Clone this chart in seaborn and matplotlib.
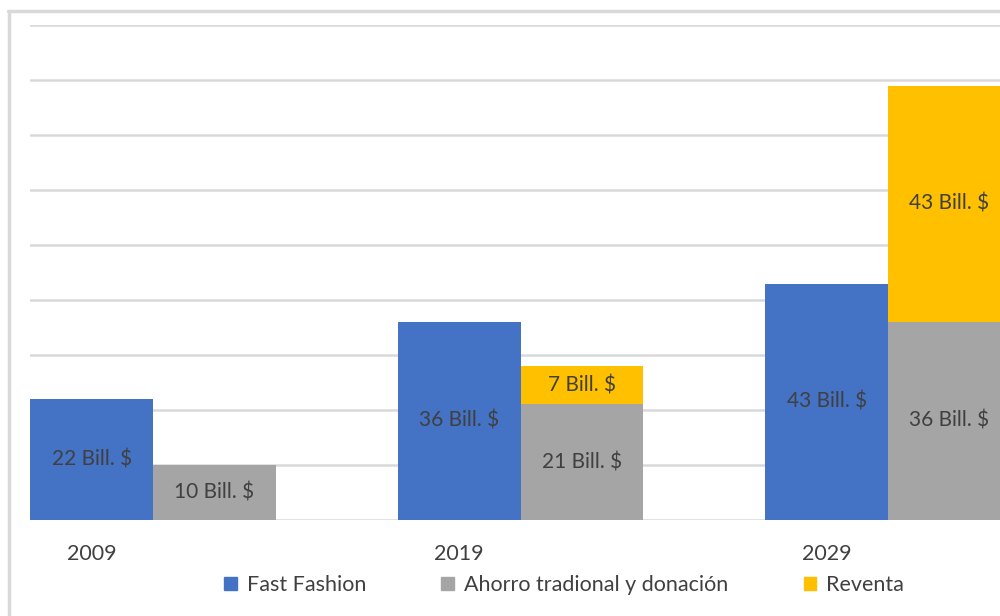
import numpy as np
import pandas as pd
import matplotlib.pyplot as plt
import seaborn as sns
from matplotlib.patches import Patch

# ================= DATA =================
years = ["2009", "2019", "2029"]
fast_fashion = [22, 36, 43]
ahorro = [10, 21, 36]
reventa = [0, 7, 43]
series_names = ["Fast Fashion", "Ahorro tradional y donación", "Reventa"]

BLUE, GRAY, YELLOW = "#4472C4", "#A5A5A5", "#FFC000"
TEXT = "#404040"

df = pd.DataFrame({
    "year": years * 2,
    "value": fast_fashion + ahorro,
    "serie": [series_names[0]] * 3 + [series_names[1]] * 3,
})

# ================= PLOT =================
sns.set_theme(style="white")
plt.rcParams["font.family"] = ["Lato", "DejaVu Sans"]

fig = plt.figure(figsize=(10, 6.16), dpi=100)
ax = fig.add_axes([0.03, 0.156, 0.97, 0.803])

sns.barplot(data=df, x="year", y="value", hue="serie", order=years,
            hue_order=series_names[:2], palette=[BLUE, GRAY],
            width=0.668, gap=0, saturation=1, legend=False, linewidth=0,
            ax=ax, zorder=3)

blue_bars = ax.patches[:3]
gray_bars = ax.patches[3:6]

# stack reventa on top of the gray bars
gx = [b.get_x() for b in gray_bars]
gw = gray_bars[0].get_width()
yellow_bars = ax.bar(gx, reventa, width=gw, bottom=ahorro, align="edge",
                     color=YELLOW, linewidth=0, zorder=3)

# labels in the middle of each bar
def label(bars, vals, bottoms):
    for b, v, bt in zip(bars, vals, bottoms):
        if v <= 0:
            continue
        ax.text(b.get_x() + b.get_width() / 2, bt + v / 2, f"{v} Bill. $",
                ha="center", va="center", fontsize=15, color=TEXT, zorder=4)

label(blue_bars, fast_fashion, [0] * 3)
label(gray_bars, ahorro, [0] * 3)
label(yellow_bars, reventa, ahorro)

ax.set_ylim(0, 90)
ax.set_yticks(np.arange(0, 91, 10))
ax.yaxis.grid(True, color="#D9D9D9", linewidth=1.8, zorder=0)
ax.xaxis.grid(False)
ax.set_yticklabels([])
ax.tick_params(axis="y", length=0)

ax.set_xlim(-0.335, 2.305)
ax.set_xticks([b.get_x() + b.get_width() / 2 for b in blue_bars])
ax.set_xticklabels(years, fontsize=15.5, color=TEXT)
ax.tick_params(axis="x", length=0, pad=17)
ax.set_xlabel("")
ax.set_ylabel("")
for s in ax.spines.values():
    s.set_visible(False)

handles = [Patch(color=c) for c in [BLUE, GRAY, YELLOW]]
fig.legend(handles, series_names, loc="center", bbox_to_anchor=(0.564, 0.05),
           ncol=3, frameon=False, fontsize=15.5, labelcolor=TEXT,
           handlelength=0.6, handleheight=0.6, handletextpad=0.45,
           columnspacing=3.5)

# outer chart frame
fig.add_artist(plt.Line2D([0.008, 1], [0.982, 0.982], color="#D9D9D9", lw=2.5))
fig.add_artist(plt.Line2D([0.009, 0.009], [0, 0.982], color="#D9D9D9", lw=2.5))

fig.savefig("out.png", dpi=100)
